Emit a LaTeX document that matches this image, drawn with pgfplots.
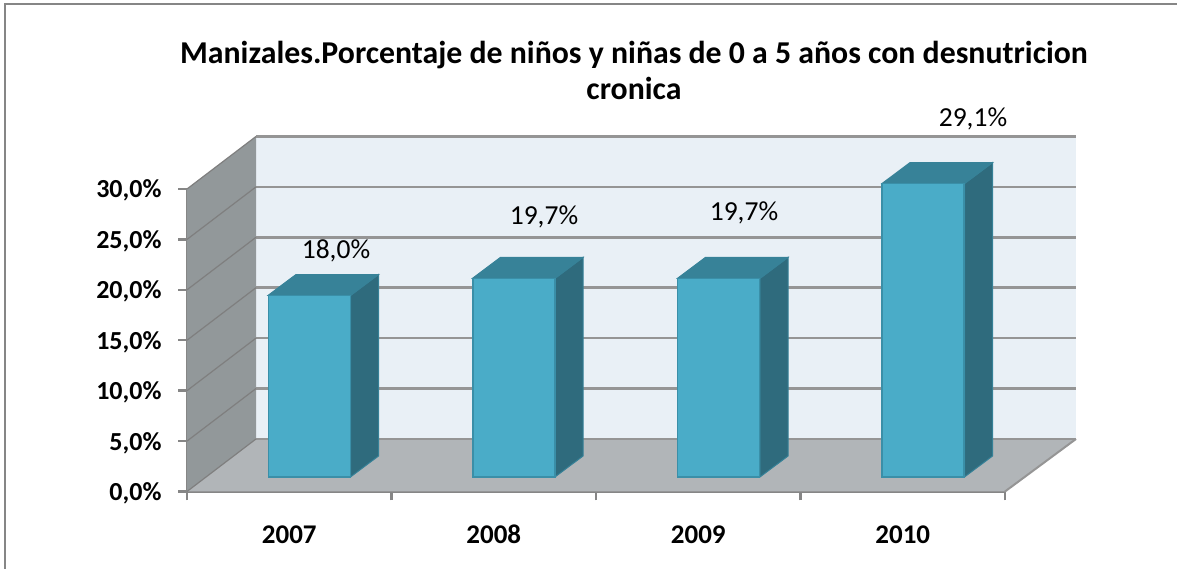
\documentclass[border=0pt]{standalone}
\usepackage{pgfplots}
\pgfplotsset{compat=1.18}
\usepackage{fontspec}
\setmainfont{Carlito}
\definecolor{wallback}{HTML}{E9F0F6}
\definecolor{wallside}{HTML}{92989A}
\definecolor{floorc}{HTML}{B1B5B8}
\definecolor{gridc}{HTML}{959595}
\definecolor{axisc}{HTML}{868686}
\definecolor{barfront}{HTML}{4AACC8}
\definecolor{bartop}{HTML}{378298}
\definecolor{barside}{HTML}{2F6B7D}
\definecolor{baredge}{HTML}{3A8FA8}
\begin{document}
\begin{tikzpicture}[x=1pt,y=1pt]
\useasboundingbox (0,0) rectangle (1177,569);
% frame of the chart area
\draw[color=axisc,line width=2.5pt] (5,0) -- (5,565) -- (1177,565);
\node[font=\fontsize{31.8}{36}\selectfont\bfseries,align=center,text=black] at (634,499)
  {Manizales.Porcentaje de niños y niñas de 0 a 5 años con desnutricion\\cronica};
% first axis: walls, floor, grid, value scale, side and top faces
\begin{axis}[
  at={(187pt,77.5pt)},anchor=south west,
  scale only axis,width=818pt,height=302.5pt,
  xmin=187,xmax=1005,ymin=0,ymax=30,
  clip=false,
  axis x line=bottom,axis y line=left,
  axis line style={-,color=axisc,line width=2.5pt},
  xtick={187,391.5,596,800.5,1005},xticklabels={},
  ytick={0,5,10,15,20,25,30},
  yticklabels={{0,0\%},{5,0\%},{10,0\%},{15,0\%},{20,0\%},{25,0\%},{30,0\%}},
  yticklabel style={font=\fontsize{26}{30}\selectfont\bfseries,text=black,xshift=-13pt,yshift=-2pt,text height=17pt,text depth=3pt},
  tick align=outside,
  major tick length=9pt,
  tick style={color=axisc,line width=2.5pt},
  axis on top=false,
]
% walls and floor
\addplot[fill=wallback,draw=none] coordinates {(256,5.21)(1076,5.21)(1076,35.21)(256,35.21)} --cycle;
\addplot[fill=wallside,draw=none] coordinates {(187,0)(256,5.21)(256,35.21)(187,30)} --cycle;
\addplot[fill=floorc,draw=none] coordinates {(187,0)(256,5.21)(1076,5.21)(1005,0)} --cycle;
% back wall grid
\addplot[color=gridc,line width=2.5pt] coordinates {(256,5.21)(1076,5.21)};
\addplot[color=gridc,line width=2.5pt] coordinates {(256,10.21)(1076,10.21)};
\addplot[color=gridc,line width=2.5pt] coordinates {(256,15.21)(1076,15.21)};
\addplot[color=gridc,line width=2.5pt] coordinates {(256,20.21)(1076,20.21)};
\addplot[color=gridc,line width=2.5pt] coordinates {(256,25.21)(1076,25.21)};
\addplot[color=gridc,line width=2.5pt] coordinates {(256,30.21)(1076,30.21)};
\addplot[color=gridc,line width=2.5pt] coordinates {(256,35.21)(1076,35.21)};
% side wall grid
\addplot[color=gridc!85!black,line width=1.2pt] coordinates {(187,0)(256,5.21)};
\addplot[color=gridc!85!black,line width=1.2pt] coordinates {(187,5)(256,10.21)};
\addplot[color=gridc!85!black,line width=1.2pt] coordinates {(187,10)(256,15.21)};
\addplot[color=gridc!85!black,line width=1.2pt] coordinates {(187,15)(256,20.21)};
\addplot[color=gridc!85!black,line width=1.2pt] coordinates {(187,20)(256,25.21)};
\addplot[color=gridc!85!black,line width=1.2pt] coordinates {(187,25)(256,30.21)};
\addplot[color=gridc!85!black,line width=1.2pt] coordinates {(187,30)(256,35.21)};
\addplot[color=gridc,line width=2pt] coordinates {(1005,0)(1076,5.21)};
% bar side faces
\addplot[fill=barside,draw=baredge!60!barside,line width=1pt] coordinates {(350.5,1.44)(378.5,3.52)(378.5,21.52)(350.5,19.44)} --cycle;
\addplot[fill=barside,draw=baredge!60!barside,line width=1pt] coordinates {(555,1.44)(583,3.52)(583,23.22)(555,21.14)} --cycle;
\addplot[fill=barside,draw=baredge!60!barside,line width=1pt] coordinates {(760,1.44)(788,3.52)(788,23.22)(760,21.14)} --cycle;
\addplot[fill=barside,draw=baredge!60!barside,line width=1pt] coordinates {(964.5,1.44)(992.5,3.52)(992.5,32.62)(964.5,30.54)} --cycle;
% bar top faces
\addplot[fill=bartop,draw=bartop,line width=1pt] coordinates {(268,19.44)(296,21.52)(378.5,21.52)(350.5,19.44)} --cycle;
\addplot[fill=bartop,draw=bartop,line width=1pt] coordinates {(472.5,21.14)(500.5,23.22)(583,23.22)(555,21.14)} --cycle;
\addplot[fill=bartop,draw=bartop,line width=1pt] coordinates {(677.5,21.14)(705.5,23.22)(788,23.22)(760,21.14)} --cycle;
\addplot[fill=bartop,draw=bartop,line width=1pt] coordinates {(882,30.54)(910,32.62)(992.5,32.62)(964.5,30.54)} --cycle;
% data labels
\node[font=\fontsize{27.5}{30}\selectfont,text=black] at (axis cs:336,23.9) {18,0\%};
\node[font=\fontsize{27.5}{30}\selectfont,text=black] at (axis cs:544,27.27) {19,7\%};
\node[font=\fontsize{27.5}{30}\selectfont,text=black] at (axis cs:744,27.67) {19,7\%};
\node[font=\fontsize{27.5}{30}\selectfont,text=black] at (axis cs:973,37.0) {29,1\%};
\end{axis}
% second axis: the bars, standing on the floor, and the category names
\begin{axis}[
  at={(187pt,77.5pt)},anchor=south west,
  scale only axis,width=818pt,height=302.5pt,
  xmin=-0.5,xmax=3.5,ymin=-1.44,ymax=28.56,
  clip=false,
  axis x line=bottom,axis y line=left,
  axis line style={draw=none,-},
  ytick=\empty,
  xtick={0,1,2,3},xticklabels={2007,2008,2009,2010},
  major tick length=0pt,
  xticklabel style={font=\fontsize{27}{30}\selectfont\bfseries,text=black,yshift=-31pt,text height=17pt,text depth=0pt},
]
\addplot[ybar,bar width=82pt,bar shift=20.25pt,fill=barfront,draw=baredge,line width=1.2pt]
  coordinates {(0,18.0)(1,19.7)(2,19.7)(3,29.1)};
\end{axis}
\end{tikzpicture}
\end{document}
